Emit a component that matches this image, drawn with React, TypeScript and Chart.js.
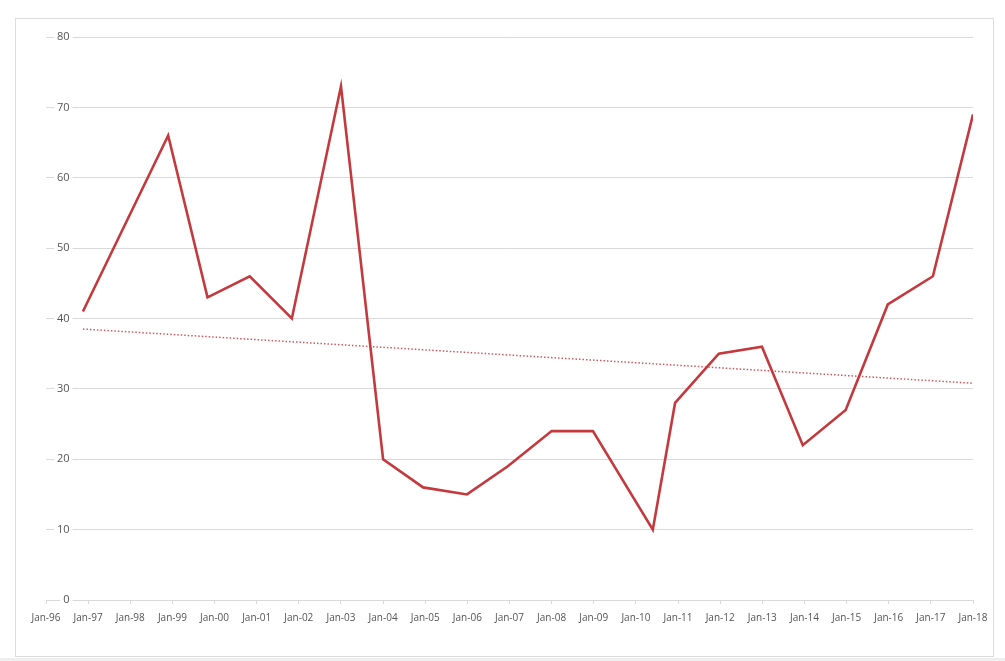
import React, { useEffect, useRef } from "react";
import { Chart, registerables } from "chart.js";

Chart.register(...registerables);

const xTickLabels = [
  "Jan-96", "Jan-97", "Jan-98", "Jan-99", "Jan-00", "Jan-01", "Jan-02", "Jan-03",
  "Jan-04", "Jan-05", "Jan-06", "Jan-07", "Jan-08", "Jan-09", "Jan-10", "Jan-11",
  "Jan-12", "Jan-13", "Jan-14", "Jan-15", "Jan-16", "Jan-17", "Jan-18",
];

const pointDates = [
  "1996-11-16", "1998-11-25", "1999-11-01", "2000-11-01", "2001-11-01",
  "2003-01-01", "2004-01-01", "2004-12-13", "2005-12-28", "2006-12-17",
  "2008-01-01", "2008-12-24", "2010-05-27", "2010-12-06", "2011-12-20",
  "2012-12-28", "2013-12-17", "2014-12-24", "2015-12-24", "2017-01-18",
  "2018-01-01",
];

const seriesValues = [
  41, 66, 43, 46, 40, 73, 20, 16, 15, 19, 24, 24, 10, 28, 35, 36, 22, 27, 42, 46, 69,
];

const trendDates = ["1996-11-16", "2018-01-01"];
const trendValues = [38.5, 30.8];

const yMin = 0;
const yMax = 80;
const yStep = 10;

const baseYear = 1996;

function yearOffset(d: string): number {
  const [y, m, day] = d.split("-").map(Number);
  const t = Date.UTC(y, m - 1, day);
  const t0 = Date.UTC(baseYear, 0, 1);
  return (t - t0) / (365.25 * 86400000);
}

const FONT = "'Open Sans', 'Noto Sans', sans-serif";
const TEXT = "#555555";
const GRID = "#d9d9d9";
const RED = "#c4393e";

export default function App() {
  const ref = useRef<HTMLCanvasElement | null>(null);

  useEffect(() => {
    document.body.style.margin = "0";
    const canvas = ref.current;
    if (!canvas) return;
    const chart = new Chart(canvas, {
      type: "line",
      data: {
        datasets: [
          {
            label: "Series",
            data: pointDates.map((d, i) => ({ x: yearOffset(d), y: seriesValues[i] })),
            borderColor: RED,
            borderWidth: 2.6,
            pointRadius: 0,
            tension: 0,
            fill: false,
          },
          {
            label: "Trend",
            data: trendDates.map((d, i) => ({ x: yearOffset(d), y: trendValues[i] })),
            borderColor: "#d0585c",
            borderWidth: 1.5,
            borderDash: [1.5, 2],
            pointRadius: 0,
            tension: 0,
            fill: false,
          },
        ],
      },
      options: {
        responsive: false,
        animation: false,
        maintainAspectRatio: false,
        layout: { padding: { left: 46, right: 32, top: 37, bottom: 0 } },
        plugins: {
          legend: { display: false },
          tooltip: { enabled: false },
        },
        scales: {
          x: {
            type: "linear",
            position: "bottom",
            min: 0,
            max: xTickLabels.length - 1,
            afterFit: (s: any) => {
              s.height = 61;
            },
            ticks: {
              stepSize: 1,
              autoSkip: false,
              maxRotation: 0,
              color: TEXT,
              font: { family: FONT, size: 10 },
              padding: 8,
              callback: (v: any) => xTickLabels[Math.round(Number(v))] ?? "",
            },
            grid: {
              drawOnChartArea: false,
              drawTicks: true,
              tickLength: 4,
              color: GRID,
            },
            border: { display: true, color: GRID },
          },
          y: {
            min: yMin,
            max: yMax,
            afterFit: (s: any) => {
              s.width = 0;
            },
            ticks: {
              stepSize: yStep,
              mirror: true,
              crossAlign: "far",
              padding: 11,
              color: TEXT,
              font: { family: FONT, size: 11 },
              showLabelBackdrop: true,
              backdropColor: "#ffffff",
              backdropPadding: { top: 0, bottom: 0, left: 3, right: 3 },
            } as any,
            grid: { color: GRID, drawTicks: false, lineWidth: 1 },
            border: { display: false },
          },
        },
      },
    });
    return () => chart.destroy();
  }, []);

  return (
    <div style={{ position: "relative", width: 1005, height: 661, background: "#ffffff", overflow: "hidden" }}>
      <div
        style={{
          position: "absolute",
          left: 15,
          top: 18,
          width: 977,
          height: 637,
          border: "1px solid #dcdcdc",
          background: "#ffffff",
        }}
      />
      <div
        style={{
          position: "absolute",
          left: 0,
          top: 658,
          width: 1005,
          height: 3,
          background: "#efefef",
        }}
      />
      <canvas ref={ref} width={1005} height={661} style={{ position: "absolute", left: 0, top: 0 }} />
    </div>
  );
}
